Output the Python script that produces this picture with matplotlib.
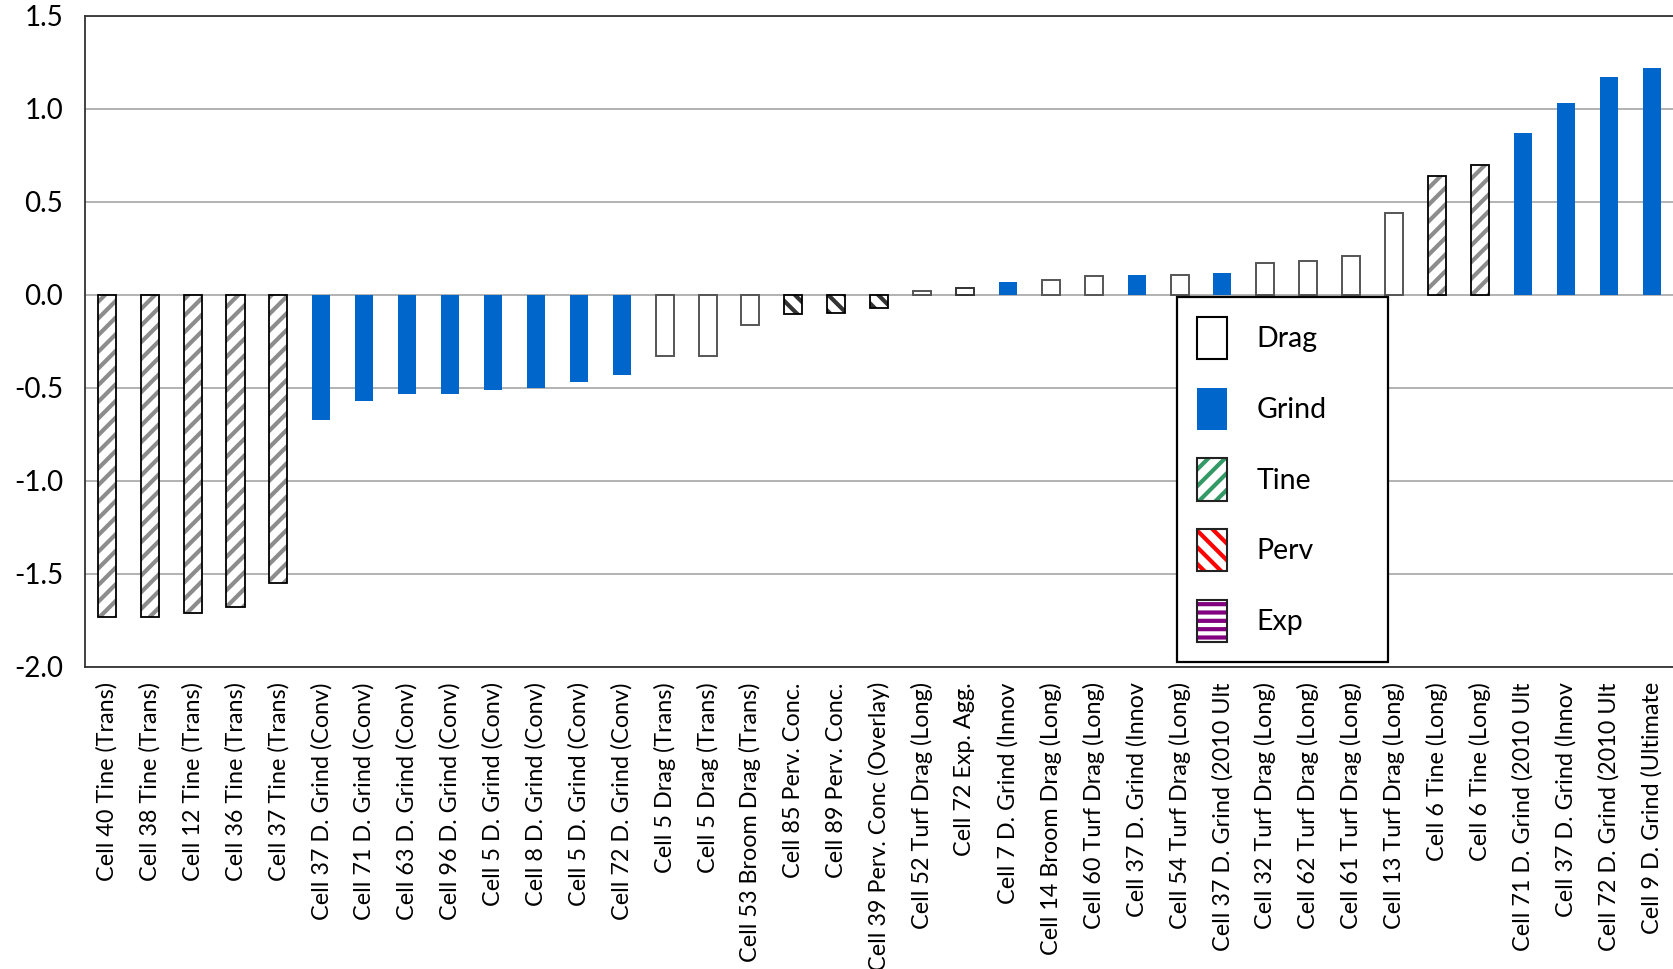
import matplotlib.pyplot as plt
from matplotlib.patches import Patch
from matplotlib.legend_handler import HandlerTuple

plt.rcParams['font.family'] = ['Lato', 'DejaVu Sans']

# Data
# -----------------------------------------------------------------------------

labels = [
    'Cell 40 Tine (Trans)', 'Cell 38 Tine (Trans)', 'Cell 12 Tine (Trans)',
    'Cell 36 Tine (Trans)', 'Cell 37 Tine (Trans)', 'Cell 37 D. Grind (Conv)',
    'Cell 71 D. Grind (Conv)', 'Cell 63 D. Grind (Conv)', 'Cell 96 D. Grind (Conv)',
    'Cell 5 D. Grind (Conv)', 'Cell 8 D. Grind (Conv)', 'Cell 5 D. Grind (Conv)',
    'Cell 72 D. Grind (Conv)', 'Cell 5 Drag (Trans)', 'Cell 5 Drag (Trans)',
    'Cell 53 Broom Drag (Trans)', 'Cell 85 Perv. Conc.', 'Cell 89 Perv. Conc.',
    'Cell 39 Perv. Conc (Overlay)', 'Cell 52 Turf Drag (Long)', 'Cell 72 Exp. Agg.',
    'Cell 7 D. Grind (Innov', 'Cell 14 Broom Drag (Long)', 'Cell 60 Turf Drag (Long)',
    'Cell 37 D. Grind (Innov', 'Cell 54 Turf Drag (Long)', 'Cell 37 D. Grind (2010 Ult',
    'Cell 32 Turf Drag (Long)', 'Cell 62 Turf Drag (Long)', 'Cell 61 Turf Drag (Long)',
    'Cell 13 Turf Drag (Long)', 'Cell 6 Tine (Long)', 'Cell 6 Tine (Long)',
    'Cell 71 D. Grind (2010 Ult', 'Cell 37 D. Grind (Innov', 'Cell 72 D. Grind (2010 Ult',
    'Cell 9 D. Grind (Ultimate',
]

values = [
    -1.73, -1.73, -1.71, -1.68, -1.55, -0.67, -0.57, -0.53, -0.53, -0.51,
    -0.50, -0.47, -0.43, -0.33, -0.33, -0.16, -0.10, -0.095, -0.07, 0.02,
    0.035, 0.07, 0.08, 0.10, 0.105, 0.11, 0.12, 0.17, 0.18, 0.21,
    0.44, 0.64, 0.70, 0.87, 1.03, 1.17, 1.22,
]

kinds = (['Tine'] * 5 + ['Grind'] * 8 + ['Drag'] * 3 + ['Perv'] * 3
         + ['Drag', 'Exp', 'Grind', 'Drag', 'Drag', 'Grind', 'Drag', 'Grind',
            'Drag', 'Drag', 'Drag', 'Drag', 'Tine', 'Tine']
         + ['Grind'] * 4)

legend_names = ['Drag', 'Grind', 'Tine', 'Perv', 'Exp']

# Plot
# -----------------------------------------------------------------------------

blue = '#0066CC'
plt.rcParams['hatch.linewidth'] = 3.0

fig = plt.figure(figsize=(16.73, 9.69), dpi=100)
ax = fig.add_axes([0.051, 0.3117, 0.949, 0.6718])

x = list(range(len(values)))
w = 0.42

for xi, v, k in zip(x, values, kinds):
    if k == 'Grind':
        ax.bar(xi, v, w, color=blue, linewidth=0, zorder=3)
    elif k == 'Drag':
        ax.bar(xi, v, w, color='white', edgecolor='#555555', linewidth=1.4, zorder=3)
    elif k == 'Tine':
        ax.bar(xi, v, w, color='white', edgecolor='#8c8c8c', hatch='//', linewidth=0, zorder=3)
        ax.bar(xi, v, w, color='none', edgecolor='black', linewidth=1.3, zorder=4)
    elif k == 'Perv':
        ax.bar(xi, v, w, color='white', edgecolor='#333333', hatch='\\\\', linewidth=0, zorder=3)
        ax.bar(xi, v, w, color='none', edgecolor='black', linewidth=1.3, zorder=4)
    else:
        ax.bar(xi, v, w, color='white', edgecolor='#333333', linewidth=1.4, zorder=3)

ax.set_xlim(-0.5, len(values) - 0.5)
ax.set_ylim(-2.0, 1.5)
ax.set_yticks([-2.0, -1.5, -1.0, -0.5, 0.0, 0.5, 1.0, 1.5])
ax.set_yticklabels(['-2.0', '-1.5', '-1.0', '-0.5', '0.0', '0.5', '1.0', '1.5'], fontsize=20)
ax.set_xticks(x)
ax.set_xticklabels(labels, rotation=90, fontsize=16.8)
ax.tick_params(axis='x', length=0, pad=11)
ax.tick_params(axis='y', length=0, pad=16)
ax.grid(axis='y', color='#a6a6a6', linewidth=1.2, zorder=0)
ax.set_axisbelow(True)
for s in ['left', 'top', 'bottom']:
    ax.spines[s].set_color('#333333')
    ax.spines[s].set_linewidth(1.3)
ax.spines['right'].set_visible(False)

# legend: hatch colours differ from the outline, so overlay two patches
hatch_h = [
    Patch(facecolor='white', edgecolor='white', linewidth=0),
    Patch(facecolor=blue, edgecolor=blue, linewidth=0),
    Patch(facecolor='white', edgecolor='#339966', hatch='//', linewidth=0),
    Patch(facecolor='white', edgecolor='#ff0000', hatch='\\\\', linewidth=0),
    Patch(facecolor='white', edgecolor='#800080', hatch='--', linewidth=0),
]
frame_h = [
    Patch(facecolor='none', edgecolor='black', linewidth=1.5),
    Patch(facecolor='none', edgecolor=blue, linewidth=0),
    Patch(facecolor='none', edgecolor='#222222', linewidth=1.5),
    Patch(facecolor='none', edgecolor='#222222', linewidth=1.5),
    Patch(facecolor='none', edgecolor='#222222', linewidth=1.5),
]
handles = [(h, f) for h, f in zip(hatch_h, frame_h)]
leg = ax.legend(handles, legend_names, handler_map={tuple: HandlerTuple(ndivide=1)},
                loc='lower left', bbox_to_anchor=(0.6875, 0.008, 0.133, 0.557),
                mode='expand', fontsize=20.5,
                handlelength=1.05, handleheight=1.9, labelspacing=1.0,
                handletextpad=1.05, borderpad=0.7, borderaxespad=0,
                fancybox=False, framealpha=1, edgecolor='black')
leg.get_frame().set_linewidth(1.6)
leg.set_zorder(5)

fig.savefig('out.png', dpi=100)
